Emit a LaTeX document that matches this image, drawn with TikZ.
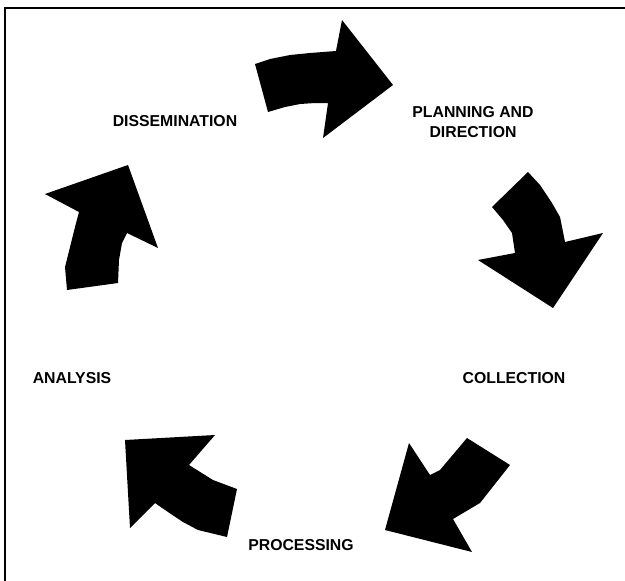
\documentclass[tikz,border=0pt]{standalone}
\usepackage{fontspec}
\setmainfont{Liberation Sans}
\begin{document}
\begin{tikzpicture}[x=1pt,y=-1pt,
  lbl/.style={font=\fontsize{15.8}{19.5}\selectfont\bfseries, align=center, inner sep=0pt},
  arr/.style={fill=black, draw=none}]
\useasboundingbox (0,0) rectangle (625,581);
% frame (top and left edges only visible)
\draw[line width=2.4pt] (5,581) -- (5,8) -- (625,8);
% arrow 1 (top)
\fill[arr] (255,64) -- (270,59) -- (290,55) -- (310,53) -- (336,51) -- (342,20) -- (393,85)
  -- (323,138) -- (328,103) -- (315,103) -- (300,104) -- (285,107) -- (268,112) -- cycle;
% arrow 2 (right top)
\fill[arr] (528,172) -- (540,185) -- (552,203) -- (560,217) -- (565,242) -- (603,233)
  -- (553,308) -- (478,260) -- (515,253) -- (512,233) -- (503,220) -- (492,207) -- cycle;
% arrow 3 (right bottom)
\fill[arr] (467,438) -- (510,465) -- (480,503) -- (453,519) -- (472,552) -- (385,530)
  -- (409,443) -- (430,475) -- (440,470) -- cycle;
% arrow 4 (left bottom)
\fill[arr] (125,440) -- (215,435) -- (189,465) -- (197,470) -- (213,480) -- (237,489)
  -- (227,537) -- (198,530) -- (183,522) -- (168,512) -- (155,503) -- (130,528) -- cycle;
% arrow 5 (left top)
\fill[arr] (67,290) -- (65,267) -- (70,247) -- (75,227) -- (79,212) -- (45,194) -- (128,165)
  -- (158,248) -- (127,233) -- (122,243) -- (119,260) -- (118,283) -- cycle;
% labels
\node[lbl] (dis) at (175,121) {DISSEMINATION};
\node[lbl] (plan) at (473,122) {PLANNING AND\\DIRECTION};
\node[lbl] (col) at (514,378) {COLLECTION};
\node[lbl] (proc) at (301,545) {PROCESSING};
\node[lbl] (ana) at (72,378) {ANALYSIS};
\end{tikzpicture}
\end{document}
